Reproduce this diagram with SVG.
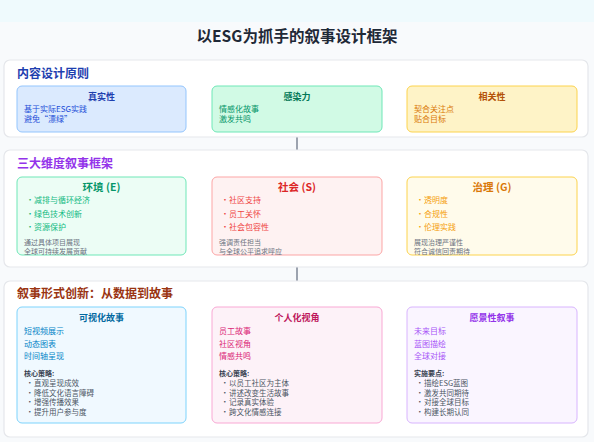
<svg xmlns="http://www.w3.org/2000/svg" width="594" height="442" viewBox="0 0 594 442">
<style>
text{font-family:"Noto Sans CJK SC","Noto Sans",sans-serif}
.panel{fill:#ffffff;stroke:#e5e7eb;stroke-width:1.2}
.sec{font-size:12px;font-weight:bold}
.bt{font-size:9px;font-weight:bold;text-anchor:middle}
.bt2{font-size:10.5px;font-weight:bold;text-anchor:middle}
.b8{font-size:8px}
.f7{font-size:7px;fill:#6b7280}
.k{font-size:7px;font-weight:bold;fill:#374151}
.l{font-size:7.5px;fill:#4b5563}
.conn{stroke:#9ca3af;stroke-width:2}
</style>
<rect x="0" y="0" width="594" height="442" fill="#f8fafc"/>
<rect x="0" y="0" width="594" height="22" fill="#effafd"/>
<text x="297" y="41.5" text-anchor="middle" font-size="15.5" font-weight="bold" fill="#1f2937">以ESG为抓手的叙事设计框架</text>

<g id="connectors">
<line class="conn" x1="297" y1="137" x2="297" y2="150"/>
<line class="conn" x1="297" y1="267" x2="297" y2="281"/>
</g>

<g id="section1">
<rect class="panel" x="4" y="60" width="584" height="77" rx="6"/>
<text class="sec" x="17" y="78" fill="#1e40af">内容设计原则</text>
</g>
<g id="node-truth">
<rect x="17" y="86" width="169" height="46" rx="5" fill="#dbeafe" stroke="#93c5fd"/>
<text class="bt" x="101.5" y="100" fill="#1e40af">真实性</text>
<text class="b8" x="24" y="112" fill="#1d4ed8" font-size="7.5">基于实际ESG实践</text>
<text class="b8" x="24" y="122" fill="#1d4ed8" font-size="7.5">避免“漂绿”</text>
</g>
<g id="node-appeal">
<rect x="212" y="86" width="170" height="46" rx="5" fill="#d1fae5" stroke="#6ee7b7"/>
<text class="bt" x="297" y="100" fill="#047857">感染力</text>
<text class="b8" x="219" y="112" fill="#059669" font-size="7.5">情感化故事</text>
<text class="b8" x="219" y="122" fill="#059669" font-size="7.5">激发共鸣</text>
</g>
<g id="node-relevance">
<rect x="407" y="86" width="170" height="46" rx="5" fill="#fef3c7" stroke="#fcd34d"/>
<text class="bt" x="492" y="100" fill="#b45309">相关性</text>
<text class="b8" x="414" y="112" fill="#d97706" font-size="7.5">契合关注点</text>
<text class="b8" x="414" y="122" fill="#d97706" font-size="7.5">贴合目标</text>
</g>

<g id="section2">
<rect class="panel" x="4" y="150" width="584" height="117" rx="6"/>
<text class="sec" x="17" y="168" fill="#9333ea">三大维度叙事框架</text>
</g>
<g id="node-e">
<rect x="17" y="177" width="169" height="78" rx="5" fill="#ecfdf5" stroke="#6ee7b7"/>
<text class="bt2" x="101.5" y="191" fill="#059669">环境 (E)</text>
<g class="b8" fill="#10b981">
<text x="26" y="203">•</text><text x="34" y="203">减排与循环经济</text>
<text x="26" y="216.5">•</text><text x="34" y="216.5">绿色技术创新</text>
<text x="26" y="229.5">•</text><text x="34" y="229.5">资源保护</text>
</g>
<text class="f7" x="24" y="245">通过具体项目展现</text>
<text class="f7" x="24" y="254">全球可持续发展贡献</text>
</g>
<g id="node-s">
<rect x="212" y="177" width="170" height="78" rx="5" fill="#fef2f2" stroke="#fca5a5"/>
<text class="bt2" x="297" y="191" fill="#dc2626">社会 (S)</text>
<g class="b8" fill="#ef4444">
<text x="221" y="203">•</text><text x="229" y="203">社区支持</text>
<text x="221" y="216.5">•</text><text x="229" y="216.5">员工关怀</text>
<text x="221" y="229.5">•</text><text x="229" y="229.5">社会包容性</text>
</g>
<text class="f7" x="219" y="245">强调责任担当</text>
<text class="f7" x="219" y="254">与全球公平追求呼应</text>
</g>
<g id="node-g">
<rect x="407" y="177" width="170" height="78" rx="5" fill="#fffbeb" stroke="#fcd34d"/>
<text class="bt2" x="492" y="191" fill="#d97706">治理 (G)</text>
<g class="b8" fill="#f59e0b">
<text x="416" y="203">•</text><text x="424" y="203">透明度</text>
<text x="416" y="216.5">•</text><text x="424" y="216.5">合规性</text>
<text x="416" y="229.5">•</text><text x="424" y="229.5">伦理实践</text>
</g>
<text class="f7" x="414" y="245">展现治理严谨性</text>
<text class="f7" x="414" y="254">符合诚信回责期待</text>
</g>

<g id="section3">
<rect class="panel" x="4" y="281" width="584" height="156" rx="6"/>
<text class="sec" x="17" y="298" fill="#9a3412">叙事形式创新：从数据到故事</text>
</g>
<g id="node-visual">
<rect x="17" y="307" width="169" height="116" rx="5" fill="#f0f9ff" stroke="#7dd3fc"/>
<text class="bt" x="101.5" y="321" fill="#0369a1">可视化故事</text>
<g class="b8" fill="#0284c7">
<text x="24" y="333.5">短视频展示</text>
<text x="24" y="347">动态图表</text>
<text x="24" y="359">时间轴呈现</text>
</g>
<text class="k" x="24" y="375.5">核心策略:</text>
<g class="l">
<text x="26" y="386">•</text><text x="34" y="386">直观呈现成效</text>
<text x="26" y="395.5">•</text><text x="34" y="395.5">降低文化语言障碍</text>
<text x="26" y="405">•</text><text x="34" y="405">增强传播效果</text>
<text x="26" y="414.5">•</text><text x="34" y="414.5">提升用户参与度</text>
</g>
</g>
<g id="node-personal">
<rect x="212" y="307" width="170" height="116" rx="5" fill="#fdf2f8" stroke="#f9a8d4"/>
<text class="bt" x="297" y="321" fill="#be185d">个人化视角</text>
<g class="b8" fill="#db2777">
<text x="219" y="333.5">员工故事</text>
<text x="219" y="347">社区视角</text>
<text x="219" y="359">情感共鸣</text>
</g>
<text class="k" x="219" y="375.5">核心策略:</text>
<g class="l">
<text x="221" y="386">•</text><text x="229" y="386">以员工社区为主体</text>
<text x="221" y="395.5">•</text><text x="229" y="395.5">讲述改变生活故事</text>
<text x="221" y="405">•</text><text x="229" y="405">记录真实体验</text>
<text x="221" y="414.5">•</text><text x="229" y="414.5">跨文化情感连接</text>
</g>
</g>
<g id="node-vision">
<rect x="407" y="307" width="170" height="116" rx="5" fill="#faf5ff" stroke="#d8b4fe"/>
<text class="bt" x="492" y="321" fill="#9333ea">愿景性叙事</text>
<g class="b8" fill="#a855f7">
<text x="414" y="333.5">未来目标</text>
<text x="414" y="347">蓝图描绘</text>
<text x="414" y="359">全球对接</text>
</g>
<text class="k" x="414" y="375.5">实施要点:</text>
<g class="l">
<text x="416" y="386">•</text><text x="424" y="386">描绘ESG蓝图</text>
<text x="416" y="395.5">•</text><text x="424" y="395.5">激发共同期待</text>
<text x="416" y="405">•</text><text x="424" y="405">对接全球目标</text>
<text x="416" y="414.5">•</text><text x="424" y="414.5">构建长期认同</text>
</g>
</g>
</svg>
